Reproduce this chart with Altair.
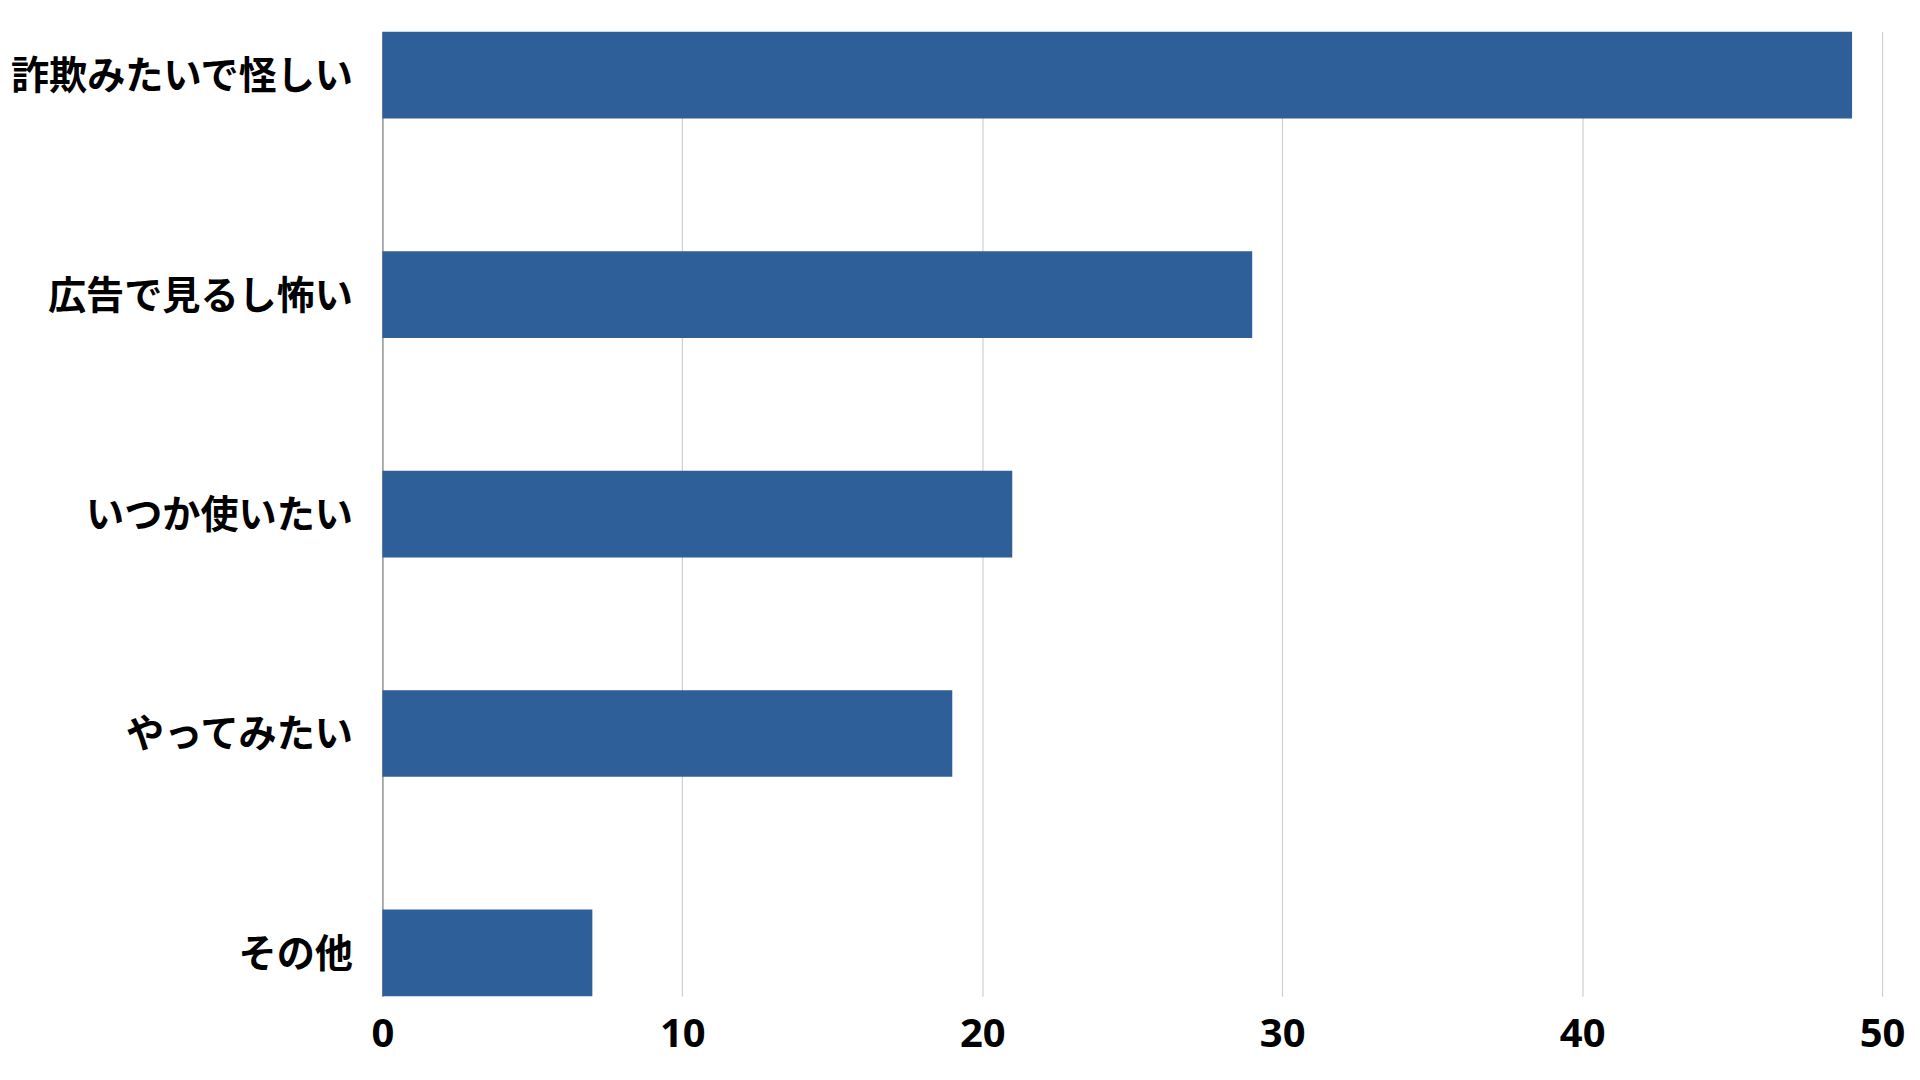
import altair as alt
import pandas as pd

categories = ["詐欺みたいで怪しい", "広告で見るし怖い", "いつか使いたい", "やってみたい", "その他"]
values = [49, 29, 21, 19, 7]
x_ticks = [0, 10, 20, 30, 40, 50]

df = pd.DataFrame({"category": categories, "value": values})

chart = alt.Chart(df).mark_bar(color="#2f5f98").encode(
    x=alt.X("value:Q",
            scale=alt.Scale(domain=[0, 50], nice=False, zero=True),
            axis=alt.Axis(values=x_ticks, title=None, domain=False, ticks=False,
                          grid=True, gridColor="#cfcfcf", gridWidth=1.2,
                          labelFont="Noto Sans", labelFontWeight="bold",
                          labelFontSize=40, labelColor="#000000", labelPadding=18,
                          labelFlush=False)),
    y=alt.Y("category:N", sort=categories,
            scale=alt.Scale(paddingInner=0.605, paddingOuter=0),
            axis=alt.Axis(title=None, ticks=False, domain=True, domainColor="#888888",
                          domainWidth=1.2, grid=False,
                          labelFont="Noto Sans CJK JP", labelFontWeight="bold",
                          labelFontSize=38.2, labelColor="#000000", labelPadding=30,
                          labelOffset=3, labelLimit=600)),
).properties(
    width=1502,
    height=966,
    autosize=alt.AutoSizeParams(type="none"),
    padding={"left": 375, "top": 23, "right": 30, "bottom": 75},
).configure_view(stroke=None)

chart.save("out.html", embed_options={"renderer": "svg", "actions": False})
